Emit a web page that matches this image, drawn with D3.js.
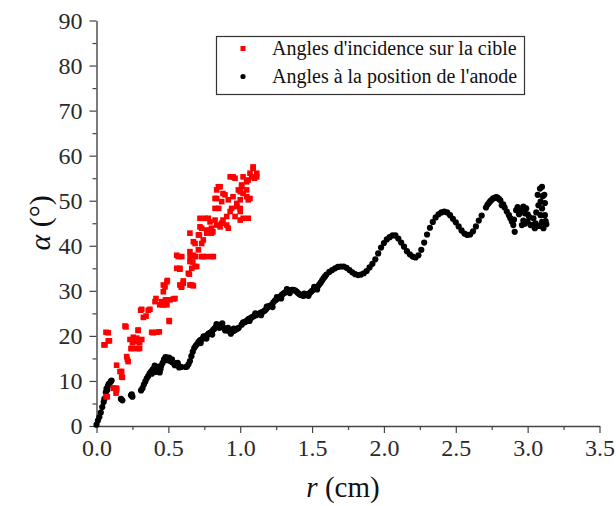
<!DOCTYPE html>
<html><head><meta charset="utf-8">
<script src="https://cdn.jsdelivr.net/npm/d3@7"></script>
<style>body{margin:0;background:#fff}svg{display:block}</style>
</head><body><svg id="c" width="616" height="506"></svg>
<script>
const xMajorTicks = [0, 0.5, 1.0, 1.5, 2.0, 2.5, 3.0, 3.5];
const xMinorTicks = [0.25, 0.75, 1.25, 1.75, 2.25, 2.75, 3.25];
const yMajorTicks = [0, 10, 20, 30, 40, 50, 60, 70, 80, 90];
const yMinorTicks = [5, 15, 25, 35, 45, 55, 65, 75, 85];
const seriesNames = ["Angles d'incidence sur la cible", "Angles à la position de l'anode"];

// Red series: incidence angles on target [r, alpha]
const redSeries = [
[0.052,18.0],[0.059,18.0],[0.066,20.8],[0.082,20.7],[0.082,18.9],[0.09,18.9],
[0.066,6.5],[0.075,6.5],[0.117,8.4],[0.122,8.4],[0.136,7.3],[0.14,8.0],[0.14,8.4],
[0.14,13.5],[0.163,12.1],[0.175,12.1],[0.175,10.9],[0.18,10.8],
[0.198,22.2],[0.205,22.0],[0.21,15.4],[0.215,14.8],[0.22,14.3],[0.233,19.2],[0.24,17.2],
[0.245,17.2],[0.25,18.5],[0.256,19.7],[0.27,18.9],[0.275,18.7],[0.28,19.5],[0.28,17.2],
[0.29,17.2],[0.30,17.2],[0.30,18.5],[0.29,21.3],[0.29,21.2],[0.315,19.2],
[0.307,25.7],[0.315,25.9],[0.326,24.1],[0.345,24.4],[0.36,25.7],[0.372,25.9],
[0.384,20.8],[0.395,20.7],[0.42,20.8],[0.437,20.9],
[0.407,27.6],[0.414,28.3],[0.44,26.9],[0.454,27.6],[0.46,26.9],[0.47,26.9],[0.49,26.9],
[0.48,28.0],[0.51,28.0],[0.505,23.4],[0.507,23.2],
[0.465,29.8],[0.465,31.3],[0.477,30.9],[0.49,32.0],[0.493,32.3],[0.535,28.2],[0.546,28.3],
[0.558,35.0],[0.558,37.9],[0.569,37.6],[0.58,34.8],[0.58,35.0],[0.58,31.3],[0.59,30.8],
[0.593,30.9],[0.593,37.6],[0.604,31.7],[0.604,32.2],[0.639,33.9],[0.646,33.7],[0.65,31.3],
[0.663,31.3],[0.674,31.1],[0.663,35.0],[0.65,36.5],[0.651,37.6],[0.67,36.4],[0.686,35.4],
[0.697,35.4],[0.674,37.9],[0.69,37.6],[0.709,39.1],[0.732,37.6],[0.743,37.6],[0.767,37.6],
[0.80,37.6],[0.813,37.6],[0.65,38.7],[0.65,42.8],[0.674,40.9],[0.686,40.5],[0.709,42.4],
[0.716,42.4],[0.732,40.5],[0.743,41.3],[0.72,44.2],[0.732,43.9],[0.767,43.5],[0.767,42.8],
[0.80,42.8],[0.80,43.9],[0.81,43.1],[0.72,46.1],[0.755,46.1],[0.778,46.1],[0.79,45.3],
[0.825,45.7],[0.836,44.6],[0.86,44.2],[0.87,45.0],[0.88,45.7],[0.906,44.6],[0.917,43.9],
[0.825,48.3],[0.85,48.3],[0.825,50.5],[0.836,50.5],[0.871,49.8],[0.88,51.6],[0.894,51.3],
[0.836,52.4],[0.848,53.1],[0.86,53.1],[0.906,46.5],[0.93,47.6],[0.94,48.3],[0.964,46.5],
[0.917,50.2],[0.95,50.9],[0.976,48.7],[0.976,49.4],[1.0,48.3],[1.0,47.6],[1.0,45.7],
[1.02,46.1],[1.056,46.1],[1.0,50.2],[1.0,52.0],[0.987,52.4],[1.02,51.6],[1.045,52.4],
[1.045,50.9],[1.056,50.2],[1.068,50.5],[1.01,53.1],[1.01,53.5],[1.045,54.2],[1.056,54.6],
[1.02,55.3],[0.93,55.3],[0.95,55.3],[0.964,55.0],[1.068,56.1],[1.08,55.3],[1.09,57.5],
[1.09,57.2],[1.10,55.0],[1.115,56.1],[1.115,55.3]
];

// Black series: angles at the anode position [r, alpha]
const blackSeries = [
[0.00,0.3],[0.01,1.2],[0.02,2.0],[0.03,3.0],[0.04,4.2],[0.05,5.3],[0.055,6.0],[0.065,7.5],
[0.07,8.3],[0.08,8.9],[0.09,9.4],[0.10,9.9],[0.105,10.1],[0.075,8.0],[0.085,9.3],
[0.17,6.0],[0.18,5.7],[0.24,6.8],[0.25,6.5],[0.245,7.0],
[0.31,7.9],[0.32,8.4],[0.33,9.2],[0.34,9.9],[0.35,10.6],[0.36,11.1],[0.37,11.7],[0.38,12.1],
[0.39,12.5],[0.40,12.8],[0.41,12.6],[0.42,13.1],[0.43,12.4],[0.44,11.9],[0.45,13.3],
[0.46,14.0],[0.47,14.8],[0.48,15.3],[0.49,15.2],[0.50,14.7],[0.51,14.5],[0.52,14.3],
[0.53,14.1],[0.54,14.0],[0.55,13.7],[0.56,13.5],[0.57,13.4],[0.58,13.2],[0.59,13.1],
[0.405,13.4],[0.415,12.0],[0.435,13.2],[0.445,12.6],[0.485,14.6],[0.505,15.2],[0.525,14.8],
[0.545,13.5],[0.565,14.0],[0.575,13.0],[0.385,11.6],[0.395,12.0],
[0.62,13.1],[0.63,13.2],[0.64,13.7],[0.65,14.4],[0.66,15.5],[0.67,16.5],[0.68,17.3],[0.69,17.8],
[0.70,18.2],[0.71,18.7],[0.72,19.0],[0.73,19.2],[0.74,19.4],[0.75,19.6],[0.76,19.9],
[0.77,20.2],[0.78,20.5],[0.79,20.7],[0.80,20.9],[0.81,21.3],[0.82,21.6],[0.83,21.9],
[0.84,22.2],[0.85,22.3],[0.86,22.4],[0.87,22.2],[0.88,21.9],[0.89,21.7],[0.90,21.5],
[0.91,21.3],[0.92,21.1],[0.93,21.0],[0.94,20.9],[0.95,21.1],[0.96,21.2],[0.97,21.4],[0.98,21.6],[0.99,21.8],
[0.725,18.4],[0.745,19.9],[0.765,19.4],[0.805,20.3],[0.835,22.6],[0.855,21.8],[0.875,22.8],
[0.895,21.2],[0.915,21.8],[0.935,20.5],[0.955,21.6],
[1.01,22.5],[1.02,23.0],[1.03,23.0],[1.04,23.2],[1.05,23.5],[1.06,23.8],[1.07,23.9],[1.08,24.1],[1.09,24.3],
[1.10,24.5],[1.11,24.6],[1.12,24.8],[1.13,24.9],[1.14,25.1],[1.15,25.2],[1.16,25.4],[1.17,25.6],[1.18,25.9],[1.19,26.3],[1.20,26.6],
[1.21,26.7],[1.22,26.9],[1.23,27.4],[1.24,27.8],[1.25,28.0],[1.26,28.3],[1.27,28.5],[1.28,28.8],[1.29,29.1],[1.30,29.4],[1.31,29.6],[1.32,29.8],
[1.33,29.9],[1.34,30.0],[1.35,30.1],[1.36,30.2],[1.37,30.2],[1.38,30.1],[1.39,29.9],[1.40,29.6],[1.41,29.3],[1.42,29.1],[1.43,29.0],[1.44,28.9],[1.45,29.0],[1.46,29.2],
[1.47,29.3],[1.48,29.4],[1.49,29.7],[1.50,30.0],[1.51,30.3],[1.52,30.6],[1.53,30.8],[1.54,31.0],[1.55,31.4],[1.56,31.8],[1.57,32.3],[1.58,32.8],[1.59,33.2],[1.60,33.6],
[1.065,23.3],[1.105,25.0],[1.145,24.6],[1.185,26.5],[1.225,26.4],[1.255,28.6],[1.285,28.3],
[1.325,30.4],[1.345,29.5],[1.445,29.4],[1.475,28.9],[1.515,30.9],[1.535,30.3],
[1.62,34.2],[1.64,34.6],[1.66,35.0],[1.68,35.3],[1.70,35.4],[1.72,35.4],[1.74,35.1],
[1.76,34.6],[1.78,34.1],[1.80,33.7],[1.82,33.5],[1.84,33.6],[1.86,33.9],[1.88,34.4],
[1.90,35.2],[1.92,36.0],[1.94,37.0],[1.96,38.3],[1.98,39.6],[2.00,40.6],[2.02,41.4],
[2.04,41.9],[2.06,42.3],[2.08,42.3],[2.10,41.6],[2.12,40.7],[2.14,39.8],[2.16,38.8],
[2.18,38.1],[2.20,37.6],[2.22,37.4],[2.24,37.9],[2.26,39.1],[2.28,40.7],[2.30,42.5],
[2.32,44.0],[2.34,45.3],[2.36,46.3],[2.38,47.0],[2.40,47.4],[2.42,47.6],[2.44,47.4],
[2.46,46.8],[2.48,46.0],[2.50,45.2],[2.52,44.3],[2.54,43.4],[2.56,42.7],[2.58,42.4],
[2.60,42.5],[2.62,43.2],[2.64,44.3],[2.66,45.6],[2.68,46.7],
[2.71,48.5],[2.72,49.1],[2.73,49.5],[2.74,49.9],[2.75,50.2],[2.76,50.5],[2.77,50.6],[2.78,50.8],[2.79,50.7],[2.80,50.4],[2.81,50.1],[2.82,49.0],
[2.83,49.2],[2.84,48.5],[2.855,47.6],[2.87,46.8],[2.88,46.1],[2.89,45.4],[2.90,44.6],[2.91,43.1],[2.905,45.8],[2.92,47.9],[2.93,48.6],[2.94,47.0],[2.95,47.6],
[2.97,48.7],[2.96,47.9],[2.98,47.2],[2.99,48.3],[3.00,47.0],[2.96,44.6],[2.97,45.6],[2.98,44.9],[3.00,45.3],[3.01,46.4],[3.02,44.6],[3.03,44.6],[3.05,43.9],
[3.04,46.1],[3.055,45.0],[3.06,47.4],[3.07,51.3],[3.075,49.0],[3.086,52.7],[3.10,53.1],[3.09,49.8],[3.10,48.3],[3.09,46.8],[3.105,51.0],
[3.10,45.3],[3.11,43.9],[3.12,46.8],[3.125,45.5],[3.116,51.3],[3.13,44.8],[3.12,49.5],[3.08,44.4]
];

const svg = d3.select("#c");
const x = d3.scaleLinear().domain([0, 3.5]).range([96.5, 599.5]);
const y = d3.scaleLinear().domain([0, 90]).range([426, 20.5]);
const axisColor = "#444";
const fontFam = "'Liberation Serif','Times New Roman',serif";

function styleAxis(g) {
  g.selectAll("path").attr("stroke", axisColor).attr("stroke-width", 1.4);
  g.selectAll("line").attr("stroke", axisColor).attr("stroke-width", 1.2);
  g.selectAll("text").attr("font-family", fontFam).attr("font-size", 24).attr("fill", "#2a2a2a");
}

// x axis
const gx = svg.append("g").attr("transform", "translate(0,426)");
gx.call(d3.axisBottom(x).tickValues(xMajorTicks).tickFormat(d3.format(".1f")).tickSize(7).tickSizeOuter(0).tickPadding(6))
  .call(styleAxis);
svg.append("g").attr("transform", "translate(0,426)")
  .call(d3.axisBottom(x).tickValues(xMinorTicks).tickFormat("").tickSize(4).tickSizeOuter(0))
  .call(g => { g.select("path").remove(); g.selectAll("line").attr("stroke", axisColor).attr("stroke-width", 1.2); });

// y axis
const gy = svg.append("g").attr("transform", "translate(96.5,0)");
gy.call(d3.axisLeft(y).tickValues(yMajorTicks).tickFormat(d3.format("d")).tickSize(7).tickSizeOuter(0).tickPadding(7))
  .call(styleAxis);
svg.append("g").attr("transform", "translate(96.5,0)")
  .call(d3.axisLeft(y).tickValues(yMinorTicks).tickFormat("").tickSize(4).tickSizeOuter(0))
  .call(g => { g.select("path").remove(); g.selectAll("line").attr("stroke", axisColor).attr("stroke-width", 1.2); });

// data
svg.append("g").selectAll("circle").data(blackSeries).join("circle")
  .attr("cx", d => x(d[0])).attr("cy", d => y(d[1])).attr("r", 3.1).attr("fill", "#000");
svg.append("g").selectAll("rect").data(redSeries).join("rect")
  .attr("x", d => x(d[0]) - 2.8).attr("y", d => y(d[1]) - 2.8)
  .attr("width", 5.6).attr("height", 5.6).attr("fill", "#ff0000");

// axis titles
const xt = svg.append("text").attr("x", 343).attr("y", 497).attr("text-anchor", "middle")
  .attr("font-family", fontFam).attr("font-size", 29).attr("fill", "#111");
xt.append("tspan").attr("font-style", "italic").text("r");
xt.append("tspan").text(" (cm)");

const yt = svg.append("text").attr("transform", "translate(50,223) rotate(-90)").attr("text-anchor", "middle")
  .attr("font-family", fontFam).attr("font-size", 30).attr("fill", "#111");
yt.append("tspan").attr("font-style", "italic").text("α");
yt.append("tspan").text(" (°)");

// legend
const lg = svg.append("g");
lg.append("rect").attr("x", 216.5).attr("y", 36.5).attr("width", 308).attr("height", 58)
  .attr("fill", "#fff").attr("stroke", "#333").attr("stroke-width", 1.2);
lg.append("rect").attr("x", 240.5).attr("y", 46).attr("width", 5).attr("height", 5).attr("fill", "#ff0000");
lg.append("circle").attr("cx", 243).attr("cy", 76.5).attr("r", 2.6).attr("fill", "#000");
lg.selectAll("text.lt").data(seriesNames).join("text").attr("class", "lt")
  .attr("x", 272).attr("y", (d, i) => 55 + i * 28)
  .attr("font-family", fontFam).attr("font-size", 20).attr("fill", "#111").text(d => d);
</script></body></html>
